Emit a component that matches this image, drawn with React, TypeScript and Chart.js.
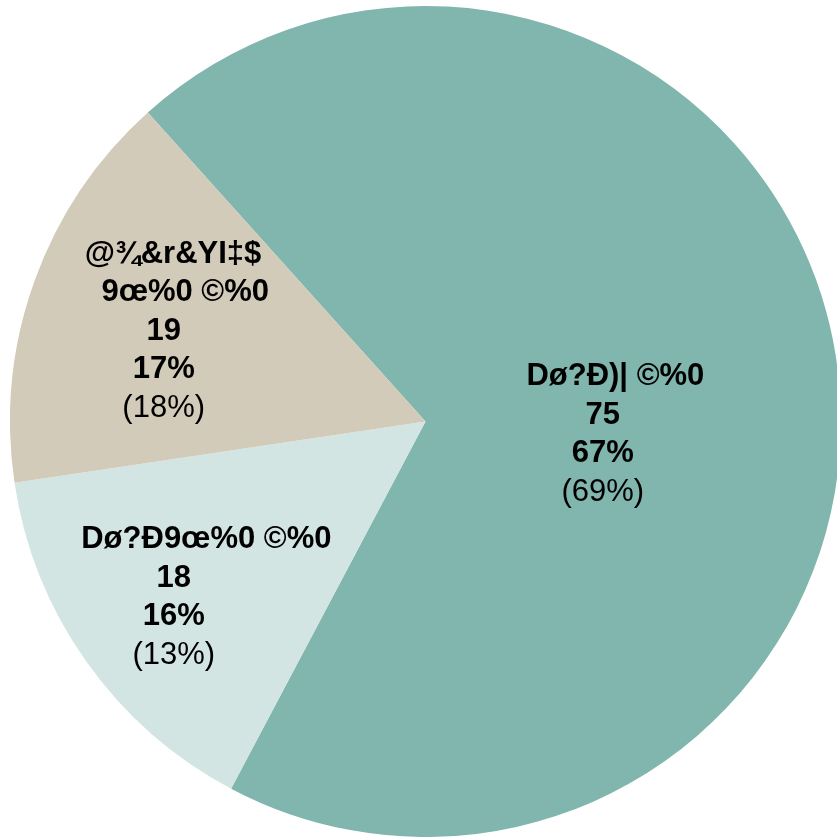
import React, { useEffect, useRef } from "react";
import { Chart, registerables } from "chart.js";

Chart.register(...registerables);

// Categories (slice names, one entry per line of the label)
const categories: string[][] = [
  ["Dø?Ð)| ©%0"],
  ["Dø?Ð9œ%0 ©%0"],
  ["@¾&r&YI‡$", "9œ%0 ©%0"],
];
// Counts shown in the labels
const counts: number[] = [75, 18, 19];
// Percent shown in bold
const percents: string[] = ["67%", "16%", "17%"];
// Percent shown in parentheses
const priorPercents: string[] = ["(69%)", "(13%)", "(18%)"];
// Slice shares as drawn in the picture (percent of the full circle)
const sliceShares: number[] = [69.4, 14.9, 15.7];
// Slice colours
const colors: string[] = ["#80B6AD", "#D3E5E3", "#D3CBBA"];

// Label placement (fraction along slice angle, fraction of radius) and per-line x shifts
const labelAngleFrac: number[] = [0.556, 0.482, 0.456];
const labelRadiusFrac: number[] = [0.43, 0.751, 0.66];
const nameLineShift: number[][] = [[12.5], [32.5], [9.3, 21.5]];

const FONT = "'Liberation Sans', Arial, Helvetica, sans-serif";
const FONT_SIZE = 31;
const LINE_H = 38.6;

const labelPlugin = {
  id: "sliceLabels",
  afterDatasetsDraw(chart: any) {
    const ctx = chart.ctx;
    const meta = chart.getDatasetMeta(0);
    ctx.save();
    ctx.textAlign = "center";
    ctx.textBaseline = "alphabetic";
    ctx.fillStyle = "#000";
    meta.data.forEach((arc: any, i: number) => {
      const p = arc.getProps(["x", "y", "startAngle", "endAngle", "outerRadius"], true);
      const a = p.startAngle + labelAngleFrac[i] * (p.endAngle - p.startAngle);
      const r = p.outerRadius * labelRadiusFrac[i];
      const ax = p.x + Math.cos(a) * r;
      const ay = p.y + Math.sin(a) * r;
      const lines: { t: string; bold: boolean; dx: number }[] = [];
      categories[i].forEach((t, k) => lines.push({ t, bold: true, dx: nameLineShift[i][k] || 0 }));
      lines.push({ t: String(counts[i]), bold: true, dx: 0 });
      lines.push({ t: percents[i], bold: true, dx: 0 });
      lines.push({ t: priorPercents[i], bold: false, dx: 0 });
      const n = lines.length;
      lines.forEach((ln, k) => {
        ctx.font = `${ln.bold ? "bold " : ""}${FONT_SIZE}px ${FONT}`;
        const y = ay - ((n - 1) / 2) * LINE_H + k * LINE_H;
        ctx.fillText(ln.t, ax + ln.dx, y);
      });
    });
    ctx.restore();
  },
};

export default function App() {
  const ref = useRef<HTMLCanvasElement | null>(null);
  useEffect(() => {
    if (!ref.current) return;
    const chart = new Chart(ref.current, {
      type: "pie",
      data: {
        labels: categories.map((c) => c.join(" ")),
        datasets: [
          {
            data: sliceShares,
            backgroundColor: colors,
            borderWidth: 0,
          },
        ],
      },
      options: {
        responsive: false,
        animation: false,
        rotation: -41.94,
        layout: { padding: 0 },
        plugins: {
          legend: { display: false },
          tooltip: { enabled: false },
          title: { display: false },
        },
      },
      plugins: [labelPlugin],
    });
    return () => chart.destroy();
  }, []);
  return (
    <div
      style={{
        position: "fixed",
        left: 0,
        top: 0,
        width: 837,
        height: 839,
        overflow: "hidden",
        background: "#fff",
      }}
    >
      <canvas
        ref={ref}
        width={831}
        height={831}
        style={{ position: "absolute", left: 10, top: 6, width: 831, height: 831 }}
      />
    </div>
  );
}
